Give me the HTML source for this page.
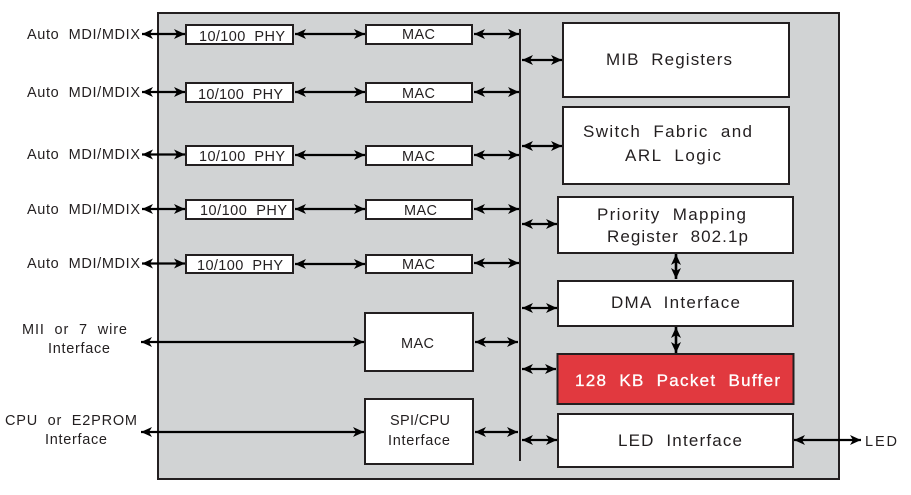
<!DOCTYPE html>
<html><head><meta charset="utf-8"><style>
html,body{margin:0;padding:0;background:#fff}
svg{display:block}
text{font-family:"Liberation Sans",sans-serif;font-size:14.5px;fill:#231f20;white-space:pre}
.b{fill:#fff;stroke:#231f20;stroke-width:2}
.a{stroke:#000;stroke-width:2.2;fill:none;marker-start:url(#m);marker-end:url(#m)}
.v{stroke-width:2.6}
.l{font-size:17px}
</style></head><body>
<svg width="911" height="495" viewBox="0 0 911 495" xmlns="http://www.w3.org/2000/svg">
<defs><marker id="m" markerUnits="userSpaceOnUse" markerWidth="14" markerHeight="12" refX="11" refY="6" orient="auto-start-reverse"><path d="M0 1L11 6L0 11L3 6Z" fill="#000"/></marker></defs>
<rect x="158" y="13" width="681" height="466" fill="#d1d3d4" stroke="#231f20" stroke-width="2"/>
<line x1="520" y1="29" x2="520" y2="461" stroke="#231f20" stroke-width="2"/>

<rect class="b" x="186" y="25" width="107" height="19"/><rect class="b" x="186" y="83" width="107" height="19"/><rect class="b" x="186" y="146" width="107" height="19"/><rect class="b" x="186" y="200" width="107" height="19"/><rect class="b" x="186" y="255" width="107" height="18"/>
<rect class="b" x="366" y="25" width="106" height="19"/><rect class="b" x="366" y="83" width="106" height="19"/><rect class="b" x="366" y="146" width="106" height="19"/><rect class="b" x="366" y="200" width="106" height="19"/><rect class="b" x="366" y="255" width="106" height="18"/>
<rect class="b" x="365" y="313" width="108" height="58"/><rect class="b" x="365" y="399" width="108" height="65"/>
<rect class="b" x="563" y="23" width="226" height="74"/><rect class="b" x="563" y="107" width="226" height="77"/><rect class="b" x="558" y="197" width="235" height="56"/><rect class="b" x="558" y="281" width="235" height="45"/>
<rect x="557.5" y="354" width="236" height="50" fill="#e1393f" stroke="#231f20" stroke-width="2"/>
<rect class="b" x="558" y="414" width="235" height="53"/>

<path class="a" d="M142 34H185"/><path class="a" d="M142 92H185"/><path class="a" d="M142 154.500H185"/><path class="a" d="M142 209H185"/><path class="a" d="M142 263.500H185"/>
<path class="a" d="M295 34H365"/><path class="a" d="M295 92H365"/><path class="a" d="M295 155H365"/><path class="a" d="M295 209H365"/><path class="a" d="M295 264H365"/>
<path class="a" d="M474 34H519"/><path class="a" d="M474 92H519"/><path class="a" d="M474 155H519"/><path class="a" d="M474 209H519"/><path class="a" d="M474 263H519"/>
<path class="a" d="M141 342H364"/><path class="a" d="M141 432H364"/><path class="a" d="M475 342H518"/><path class="a" d="M475 432H518"/>
<path class="a" d="M522 60H562"/><path class="a" d="M522 146H562"/><path class="a" d="M522 224H557"/><path class="a" d="M522 308H557"/><path class="a" d="M522 369H556"/><path class="a" d="M522 440H557"/>
<path class="a" d="M794 440H861"/><path class="a v" d="M676 254V279"/><path class="a v" d="M676 327V353"/>

<text x="27" y="39" textLength="113" lengthAdjust="spacing">Auto  MDI/MDIX</text>
<text x="27" y="97" textLength="113" lengthAdjust="spacing">Auto  MDI/MDIX</text>
<text x="27" y="159" textLength="113" lengthAdjust="spacing">Auto  MDI/MDIX</text>
<text x="27" y="214" textLength="113" lengthAdjust="spacing">Auto  MDI/MDIX</text>
<text x="27" y="268" textLength="113" lengthAdjust="spacing">Auto  MDI/MDIX</text>
<text x="22" y="334" textLength="105">MII  or  7  wire</text>
<text x="48" y="353" textLength="62">Interface</text>
<text x="5" y="425" textLength="132">CPU  or  E2PROM</text>
<text x="45" y="444" textLength="62">Interface</text>

<text x="199" y="41" textLength="86">10/100  PHY</text>
<text x="198" y="99" textLength="85">10/100  PHY</text>
<text x="199" y="161" textLength="86">10/100  PHY</text>
<text x="200" y="215" textLength="87">10/100  PHY</text>
<text x="197" y="270" textLength="86">10/100  PHY</text>
<text x="402" y="39" textLength="33">MAC</text>
<text x="402" y="98" textLength="33">MAC</text>
<text x="402" y="161" textLength="33">MAC</text>
<text x="404" y="215" textLength="33">MAC</text>
<text x="402" y="269" textLength="33">MAC</text>
<text x="401" y="348" textLength="33">MAC</text>
<text x="390" y="425" textLength="60">SPI/CPU</text>
<text x="388" y="445" textLength="62">Interface</text>

<text class="l" x="606" y="65" textLength="126">MIB  Registers</text>
<text class="l" x="583" y="137" textLength="169">Switch  Fabric  and</text>
<text class="l" x="625" y="161" textLength="96">ARL  Logic</text>
<text class="l" x="597" y="220" textLength="149">Priority  Mapping</text>
<text class="l" x="607" y="242" textLength="141">Register  802.1p</text>
<text class="l" x="611" y="308" textLength="129">DMA  Interface</text>
<text class="l" x="575" y="386" textLength="205" style="fill:#fff;stroke:#fff;stroke-width:.3">128  KB  Packet  Buffer</text>
<text class="l" x="618" y="446" textLength="124">LED  Interface</text>
<text x="865" y="446" textLength="32">LED</text>
</svg>
</body></html>
